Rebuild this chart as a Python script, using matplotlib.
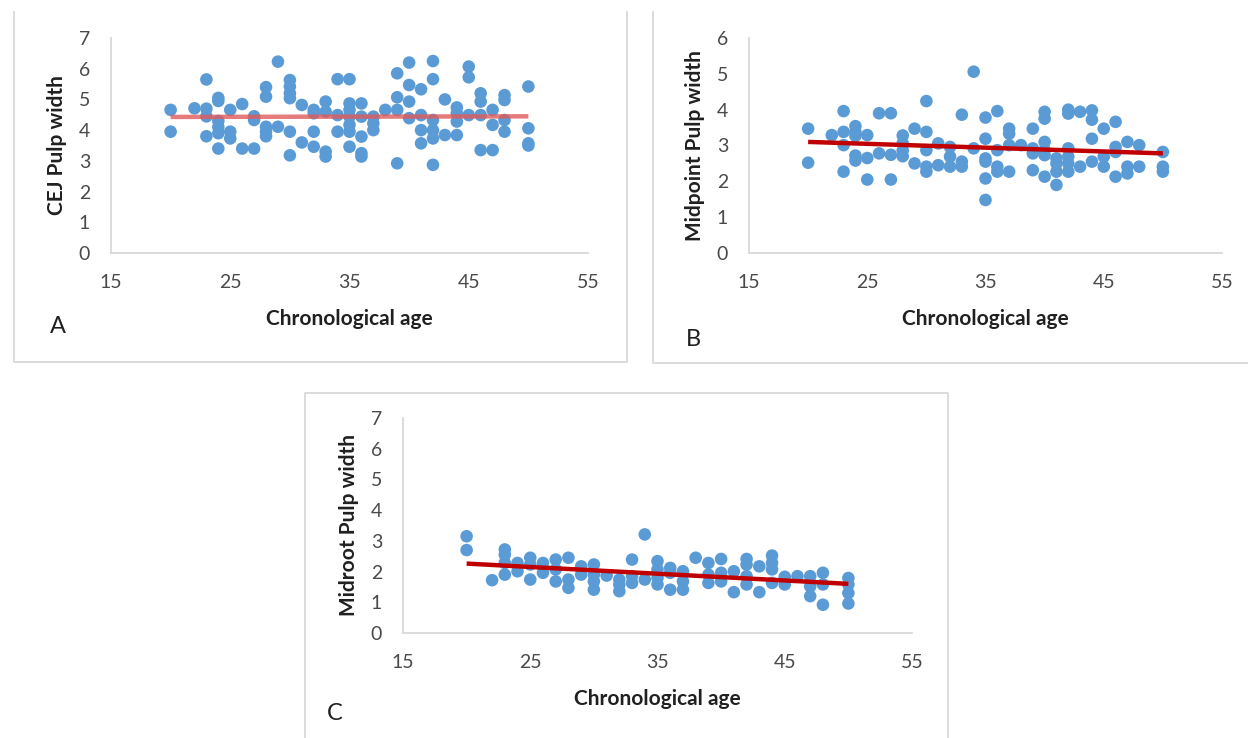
import matplotlib
matplotlib.use('Agg')
import matplotlib.pyplot as plt
from matplotlib.lines import Line2D

plt.rcParams['font.family'] = ['Lato', 'DejaVu Sans']

# ---- data ----
AGE_A = [20, 20, 22, 23, 23, 23, 23, 24, 24, 24, 24, 24, 24, 25, 25, 25, 26, 26,
         27, 27, 27, 28, 28, 28, 28, 28, 29, 29, 30, 30, 30, 30, 30, 30, 31, 31,
         32, 32, 32, 32, 33, 33, 33, 33, 34, 34, 34, 35, 35, 35, 35, 35, 35, 35,
         36, 36, 36, 36, 36, 37, 37, 37, 38, 39, 39, 39, 39, 40, 40, 40, 40,
         41, 41, 41, 41, 42, 42, 42, 42, 42, 42, 43, 43, 44, 44, 44, 44,
         45, 45, 45, 46, 46, 46, 46, 47, 47, 47, 48, 48, 48, 48, 50, 50, 50, 50]
CEJ = [4.66, 3.95, 4.71, 5.65, 4.7, 4.45, 3.8, 5.05, 4.95, 4.3, 4.1, 3.9, 3.4,
       4.66, 3.95, 3.73, 4.85, 3.4, 4.45, 4.33, 3.4, 5.4, 5.09, 4.11, 3.95, 3.8,
       6.23, 4.11, 5.63, 5.42, 5.2, 5.04, 3.95, 3.18, 4.82, 3.6, 4.66, 4.55,
       3.95, 3.46, 4.93, 4.6, 3.3, 3.14, 5.66, 4.49, 3.95, 5.66, 4.87, 4.66,
       4.44, 4.17, 3.95, 3.46, 4.87, 4.44, 3.79, 3.25, 3.14, 4.44, 4.22, 4.0,
       4.66, 5.85, 5.07, 4.66, 2.92, 6.2, 5.47, 4.93, 4.39, 5.33, 4.49, 4.0,
       3.57, 6.25, 5.66, 4.33, 4.0, 3.73, 2.87, 5.0, 3.84, 4.74, 4.55, 4.28,
       3.84, 6.07, 5.72, 4.49, 5.2, 4.93, 4.49, 3.35, 4.66, 4.17, 3.35, 5.14,
       4.98, 4.33, 3.95, 5.42, 4.06, 3.57, 3.5]

AGE_B = [20, 20, 22, 23, 23, 23, 23, 24, 24, 24, 24, 24, 25, 25, 25, 26, 26,
         27, 27, 27, 28, 28, 28, 28, 29, 29, 30, 30, 30, 30, 30, 31, 31,
         32, 32, 32, 33, 33, 33, 34, 34, 35, 35, 35, 35, 35, 35, 36, 36, 36, 36,
         37, 37, 37, 37, 38, 39, 39, 39, 39, 40, 40, 40, 40, 40, 40,
         41, 41, 41, 41, 42, 42, 42, 42, 42, 42, 43, 43, 44, 44, 44, 44,
         45, 45, 45, 46, 46, 46, 46, 47, 47, 47, 48, 48, 50, 50, 50]
MIDPOINT = [3.47, 2.52, 3.29, 3.96, 3.38, 3.01, 2.27, 3.54, 3.38, 3.27, 2.72,
            2.58, 3.29, 2.65, 2.05, 3.9, 2.78, 3.9, 2.74, 2.05, 3.28, 3.06,
            2.86, 2.7, 3.47, 2.5, 4.24, 3.38, 2.87, 2.41, 2.27, 3.06, 2.45,
            2.96, 2.69, 2.41, 3.86, 2.55, 2.41, 5.06, 2.92, 3.78, 3.19, 2.64,
            2.55, 2.08, 1.48, 3.96, 2.87, 2.41, 2.27, 3.47, 3.33, 3.01, 2.27,
            3.01, 3.47, 2.92, 2.78, 2.31, 3.94, 3.75, 3.1, 2.87, 2.73, 2.13,
            2.64, 2.5, 2.27, 1.9, 4.0, 3.89, 2.92, 2.69, 2.5, 2.27, 3.94, 2.41,
            3.98, 3.72, 3.19, 2.55, 3.47, 2.69, 2.41, 3.66, 2.96, 2.82, 2.13,
            3.1, 2.41, 2.22, 3.01, 2.41, 2.82, 2.41, 2.27]

AGE_C = [20, 20, 22, 23, 23, 23, 23, 24, 24, 25, 25, 25, 26, 26, 27, 27, 27,
         28, 28, 28, 29, 29, 30, 30, 30, 30, 31, 32, 32, 32, 33, 33, 33, 34, 34,
         35, 35, 35, 35, 36, 36, 36, 37, 37, 37, 38, 39, 39, 39, 40, 40, 40,
         41, 41, 42, 42, 42, 42, 43, 43, 44, 44, 44, 44, 45, 45, 46,
         47, 47, 47, 48, 48, 48, 50, 50, 50, 50]
MIDROOT = [3.15, 2.7, 1.72, 2.72, 2.55, 2.28, 1.9, 2.28, 2.01, 2.45, 2.23, 1.74,
           2.28, 1.96, 2.39, 2.07, 1.68, 2.45, 1.74, 1.47, 2.17, 1.9, 2.23, 1.9,
           1.68, 1.41, 1.87, 1.74, 1.58, 1.36, 2.39, 1.85, 1.63, 3.21, 1.74,
           2.34, 2.07, 1.79, 1.58, 2.12, 1.96, 1.41, 2.01, 1.68, 1.41, 2.45,
           2.28, 1.9, 1.63, 2.41, 1.96, 1.68, 2.01, 1.33, 2.41, 2.23, 1.85, 1.58,
           2.17, 1.33, 2.52, 2.28, 2.07, 1.63, 1.83, 1.58, 1.85, 1.85, 1.52, 1.2,
           1.96, 1.58, 0.92, 1.79, 1.58, 1.3, 0.96]

# linear trend lines as drawn (start/end at age 20 and 50)
TREND_X = [20, 50]
TREND_A = [4.43, 4.45]
TREND_B = [3.10, 2.78]
TREND_C = [2.26, 1.60]

W, H = 1248, 738
BLUE = '#5b9bd5'
GRID = '#d9d9d9'
TICK = '#4a4a4a'
DARK = '#202020'


def px_rect(l, t, r, b):
    return [l / W, 1 - b / H, (r - l) / W, (b - t) / H]


def fig_line(fig, xs, ys):
    fig.add_artist(Line2D([x / W for x in xs], [1 - y / H for y in ys],
                          color=GRID, lw=1.3, transform=fig.transFigure))


def panel(fig, rect, ages, vals, trend, tcolor, talpha, ymax, ylab):
    ax = fig.add_axes(px_rect(*rect))
    ax.scatter(ages, vals, s=82, color=BLUE, edgecolor='none', zorder=2)
    ax.plot(TREND_X, trend, color=tcolor, lw=3.2, alpha=talpha,
            solid_capstyle='butt', zorder=3)
    ax.set_xlim(15, 55); ax.set_ylim(0, ymax)
    ax.set_xticks(range(15, 56, 10)); ax.set_yticks(range(0, ymax + 1))
    for s in ['top', 'right']:
        ax.spines[s].set_visible(False)
    for s in ['left', 'bottom']:
        ax.spines[s].set_color(GRID); ax.spines[s].set_linewidth(1.3)
    ax.tick_params(length=0, labelsize=14, colors=TICK)
    ax.tick_params(axis='x', pad=15)
    ax.tick_params(axis='y', pad=15)
    ax.set_facecolor('none')
    l, t, r, b = rect
    fig.text(((l + r) / 2) / W, 1 - (b + 66) / H, 'Chronological age',
             ha='center', va='center', fontsize=15, fontweight='bold',
             color=DARK)
    fig.text((l - 54) / W, 1 - ((t + b) / 2) / H, ylab, rotation=90,
             ha='center', va='center', fontsize=15, fontweight='bold',
             color=DARK)
    return ax


fig = plt.figure(figsize=(W / 100, H / 100), dpi=100)

# panel frames
fig_line(fig, [14, 14, 627, 627], [12, 362, 362, 12])
fig_line(fig, [653, 653, 1260], [12, 363, 363])
fig_line(fig, [305, 305, 948, 948, 305], [750, 393, 393, 750, 750])

panel(fig, (111, 38, 588, 253), AGE_A, CEJ, TREND_A, '#e05a5a', 0.8, 7,
      'CEJ Pulp width')
panel(fig, (749, 38, 1222, 253), AGE_B, MIDPOINT, TREND_B, '#c00000', 1.0, 6,
      'Midpoint Pulp width')
panel(fig, (403, 418, 912, 633), AGE_C, MIDROOT, TREND_C, '#c00000', 1.0, 7,
      'Midroot Pulp width')

for lab, x, y in [('A', 58, 326), ('B', 693, 339), ('C', 335, 713)]:
    fig.text(x / W, 1 - y / H, lab, ha='center', va='center', fontsize=17,
             color=DARK)

fig.savefig('out.png', dpi=100)
